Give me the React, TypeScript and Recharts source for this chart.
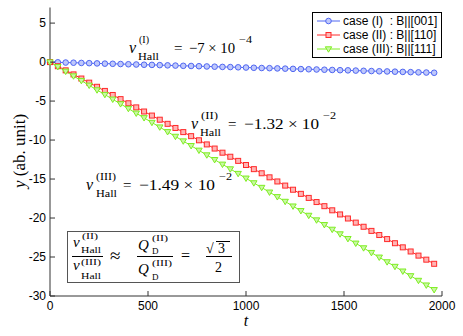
import React from 'react';
import { LineChart, Line, XAxis, YAxis, Legend } from 'recharts';

const timeSteps = [
  0, 40, 80, 120, 160, 200, 240, 280, 320, 360, 400, 440, 480, 520, 560, 600, 640, 680, 720, 760,
  800, 840, 880, 920, 960, 1000, 1040, 1080, 1120, 1160, 1200, 1240, 1280, 1320, 1360, 1400, 1440,
  1480, 1520, 1560, 1600, 1640, 1680, 1720, 1760, 1800, 1840, 1880, 1920, 1960,
];

// case (I): B||[001]
const caseI = [
  0, -0.03, -0.06, -0.08, -0.11, -0.14, -0.17, -0.2, -0.22, -0.25, -0.28, -0.31, -0.34, -0.36,
  -0.39, -0.42, -0.45, -0.48, -0.5, -0.53, -0.56, -0.59, -0.62, -0.64, -0.67, -0.7, -0.73, -0.76,
  -0.78, -0.81, -0.84, -0.87, -0.9, -0.92, -0.95, -0.98, -1.01, -1.04, -1.06, -1.09, -1.12, -1.15,
  -1.18, -1.2, -1.23, -1.26, -1.29, -1.32, -1.34, -1.37,
];

// case (II): B||[110]
const caseII = [
  0, -0.53, -1.06, -1.58, -2.11, -2.64, -3.17, -3.7, -4.22, -4.75, -5.28, -5.81, -6.34, -6.86,
  -7.39, -7.92, -8.45, -8.98, -9.5, -10.03, -10.56, -11.09, -11.62, -12.14, -12.67, -13.2, -13.73,
  -14.26, -14.78, -15.31, -15.84, -16.37, -16.9, -17.42, -17.95, -18.48, -19.01, -19.54, -20.06,
  -20.59, -21.12, -21.65, -22.18, -22.7, -23.23, -23.76, -24.29, -24.82, -25.34, -25.87,
];

// case (III): B||[111]
const caseIII = [
  0, -0.6, -1.19, -1.79, -2.38, -2.98, -3.58, -4.17, -4.77, -5.36, -5.96, -6.56, -7.15, -7.75,
  -8.34, -8.94, -9.54, -10.13, -10.73, -11.32, -11.92, -12.52, -13.11, -13.71, -14.3, -14.9, -15.5,
  -16.09, -16.69, -17.28, -17.88, -18.48, -19.07, -19.67, -20.26, -20.86, -21.46, -22.05, -22.65,
  -23.24, -23.84, -24.44, -25.03, -25.63, -26.22, -26.82, -27.42, -28.01, -28.61, -29.2,
];

const xTicks = [0, 500, 1000, 1500, 2000];
const yTicks = [-30, -25, -20, -15, -10, -5, 0, 5];

const seriesLabels = ['case (I)  : B||[001]', 'case (II) : B||[110]', 'case (III): B||[111]'];

const data = timeSteps.map((t, i) => ({ t, c1: caseI[i], c2: caseII[i], c3: caseIII[i] }));

const BLUE = '#4f66f2';
const RED = '#ff2a2a';
const GREEN = '#7fee22';
const FRAME = '#333';
const SANS = 'Liberation Sans, Arial, Helvetica, sans-serif';
const SERIF = 'Liberation Serif, DejaVu Serif, serif';

const markerOf: Record<string, (cx: number, cy: number, key?: string) => React.ReactElement> = {
  c1: (cx, cy, key) => (
    <circle key={key} cx={cx} cy={cy} r={2.8} fill="#bfc8fb" stroke={BLUE} strokeWidth={1} />
  ),
  c2: (cx, cy, key) => (
    <rect key={key} x={cx - 2.5} y={cy - 2.5} width={5} height={5} fill="#ffb4b4" stroke={RED} strokeWidth={1} />
  ),
  c3: (cx, cy, key) => (
    <path
      key={key}
      d={`M${cx - 3.2},${cy - 2.2}L${cx + 3.2},${cy - 2.2}L${cx},${cy + 3.2}Z`}
      fill="#c9f7a4"
      stroke={GREEN}
      strokeWidth={1}
    />
  ),
};

const dotFor = (k: string) => (p: any) => markerOf[k](p.cx, p.cy, `${k}-${p.index}`);

const BottomTick = ({ x, y, payload }: any) => (
  <g>
    <line x1={x} x2={x} y1={y} y2={y - 5} stroke={FRAME} />
    <text x={x} y={y + 14} textAnchor="middle" fontSize={12} fontFamily={SANS} fill="#000">
      {payload.value}
    </text>
  </g>
);

const LeftTick = ({ x, y, payload }: any) => (
  <g>
    <line x1={x} x2={x + 5} y1={y} y2={y} stroke={FRAME} />
    <text x={x - 4} y={y + 4} textAnchor="end" fontSize={12} fontFamily={SANS} fill="#000">
      {payload.value}
    </text>
  </g>
);

const TopTick = ({ x, y }: any) => <line x1={x} x2={x} y1={y} y2={y + 5} stroke={FRAME} />;
const RightTick = ({ x, y }: any) => <line x1={x} x2={x - 5} y1={y} y2={y} stroke={FRAME} />;

const renderLegend = () => {
  const keys = ['c1', 'c2', 'c3'];
  const colors = [BLUE, RED, GREEN];
  return (
    <div
      style={{
        border: '1px solid #000',
        background: '#fff',
        padding: '1px 4px 1px 3px',
        fontFamily: SANS,
        fontSize: 12,
        lineHeight: '14px',
        whiteSpace: 'pre',
      }}
    >
      {keys.map((k, i) => (
        <div key={k} style={{ display: 'flex', alignItems: 'center', height: 14 }}>
          <svg width={25} height={14} style={{ marginRight: 2 }}>
            <line x1={1} x2={24} y1={7} y2={7} stroke={colors[i]} />
            {markerOf[k](12.5, 7)}
          </svg>
          <span>{seriesLabels[i]}</span>
        </div>
      ))}
    </div>
  );
};

const T = ({ x, y, s = 15, it = false, w, anchor = 'start', children }: any) => (
  <text
    x={x}
    y={y}
    fontSize={s}
    fontFamily={SERIF}
    fontStyle={it ? 'italic' : 'normal'}
    textAnchor={anchor}
    textLength={w}
    lengthAdjust={w ? 'spacingAndGlyphs' : undefined}
    fill="#000"
  >
    {children}
  </text>
);

const Annotations = () => (
  <svg width={463} height={336} style={{ position: 'absolute', left: 0, top: 0, pointerEvents: 'none' }}>
    {/* case I */}
    <T x={129} y={53} s={16} it>v</T>
    <T x={139} y={43} s={10}>(I)</T>
    <T x={138} y={60} s={10} w={21}>Hall</T>
    <T x={174} y={53} s={15}>=</T>
    <T x={189} y={53} w={46}>−7 × 10</T>
    <T x={239} y={43} s={10} w={13}>−4</T>

    {/* case II */}
    <T x={191} y={129} s={16} it>v</T>
    <T x={201} y={119} s={10} w={17}>(II)</T>
    <T x={200} y={136} s={10} w={21}>Hall</T>
    <T x={228} y={129} s={15}>=</T>
    <T x={244} y={129} w={75}>−1.32 × 10</T>
    <T x={323} y={119} s={10} w={13}>−2</T>

    {/* case III */}
    <T x={86} y={190} s={16} it>v</T>
    <T x={96} y={180} s={10} w={20}>(III)</T>
    <T x={96} y={197} s={10} w={21}>Hall</T>
    <T x={123} y={190} s={15}>=</T>
    <T x={139} y={190} w={76}>−1.49 × 10</T>
    <T x={219} y={180} s={10} w={13}>−2</T>

    {/* ratio box */}
    <rect x={67.5} y={231.5} width={172} height={51} fill="#fff" stroke="#555" />
    <T x={73} y={247} s={15} it>v</T>
    <T x={82} y={239} s={9} w={16}>(II)</T>
    <T x={81} y={253} s={9} w={20}>Hall</T>
    <line x1={72} x2={103} y1={256.5} y2={256.5} stroke="#000" />
    <T x={73} y={270} s={15} it>v</T>
    <T x={81} y={265} s={9} w={20}>(III)</T>
    <T x={81} y={279} s={9} w={20}>Hall</T>
    <T x={110} y={262} s={19}>≈</T>
    <T x={138} y={250} s={15} it>Q</T>
    <T x={152} y={241} s={9} w={16}>(II)</T>
    <T x={152} y={254} s={9}>D</T>
    <line x1={137} x2={173} y1={256.5} y2={256.5} stroke="#000" />
    <T x={138} y={274} s={15} it>Q</T>
    <T x={152} y={266} s={9} w={20}>(III)</T>
    <T x={152} y={280} s={9}>D</T>
    <T x={181} y={261} s={16}>=</T>
    <T x={206} y={253} s={14}>√</T>
    <line x1={216} x2={230} y1={241.5} y2={241.5} stroke="#000" />
    <T x={218} y={253} s={14}>3</T>
    <line x1={206} x2={232} y1={256.5} y2={256.5} stroke="#000" />
    <T x={215} y={272} s={14}>2</T>

    {/* axis labels */}
    <text transform="translate(25,151) rotate(-90)" textAnchor="middle" fontSize={17} fontFamily={SERIF}>
      <tspan fontStyle="italic">y</tspan>
      <tspan> (ab. unit)</tspan>
    </text>
    <T x={246} y={326} s={16} it anchor="middle">t</T>
  </svg>
);

export default function App() {
  return (
    <div style={{ position: 'absolute', left: 0, top: 0, width: 463, height: 336, background: '#fff' }}>
      <LineChart width={463} height={336} data={data} margin={{ top: 7.5, right: 21, bottom: 0, left: 0 }}>
        <XAxis
          xAxisId="b"
          dataKey="t"
          type="number"
          domain={[0, 2000]}
          ticks={xTicks}
          interval={0}
          height={40}
          tickSize={0}
          tickMargin={0}
          tickLine={false}
          tick={<BottomTick />}
          stroke={FRAME}
        />
        <XAxis
          xAxisId="top"
          orientation="top"
          dataKey="t"
          type="number"
          domain={[0, 2000]}
          ticks={xTicks}
          interval={0}
          height={0}
          tickSize={0}
          tickMargin={0}
          tickLine={false}
          tick={<TopTick />}
          stroke={FRAME}
        />
        <YAxis
          yAxisId="l"
          type="number"
          domain={[-30, 7]}
          ticks={yTicks}
          interval={0}
          width={50}
          tickSize={0}
          tickMargin={0}
          tickLine={false}
          tick={<LeftTick />}
          stroke={FRAME}
        />
        <YAxis
          yAxisId="r"
          orientation="right"
          type="number"
          domain={[-30, 7]}
          ticks={yTicks}
          interval={0}
          width={0}
          tickSize={0}
          tickMargin={0}
          tickLine={false}
          tick={<RightTick />}
          stroke={FRAME}
        />
        <Legend
          layout="horizontal"
          verticalAlign="middle"
          align="center"
          content={renderLegend}
          wrapperStyle={{ left: 312, top: 12, width: 'auto' }}
        />
        <Line
          xAxisId="b"
          yAxisId="l"
          dataKey="c1"
          stroke={BLUE}
          strokeWidth={1}
          dot={dotFor('c1')}
          isAnimationActive={false}
        />
        <Line
          xAxisId="b"
          yAxisId="l"
          dataKey="c2"
          stroke={RED}
          strokeWidth={1}
          dot={dotFor('c2')}
          isAnimationActive={false}
        />
        <Line
          xAxisId="b"
          yAxisId="l"
          dataKey="c3"
          stroke={GREEN}
          strokeWidth={1}
          dot={dotFor('c3')}
          isAnimationActive={false}
        />
      </LineChart>
      <Annotations />
    </div>
  );
}
